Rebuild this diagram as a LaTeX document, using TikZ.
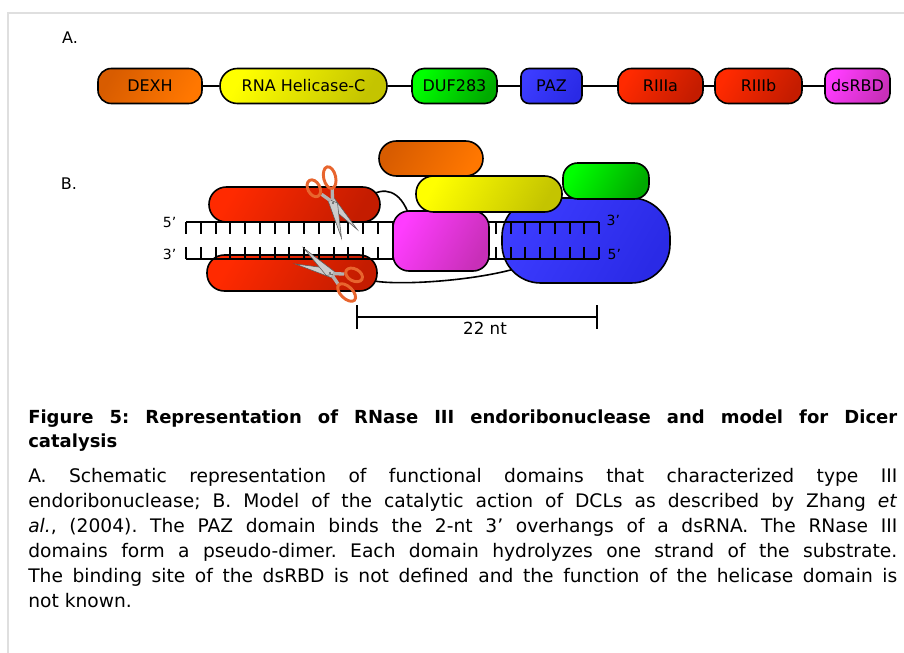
\documentclass[tikz,border=0pt]{standalone}
\usepackage{fontspec}
\setmainfont{DejaVu Sans}
\usepackage{tikz}
\usetikzlibrary{positioning, arrows.meta, shapes.geometric}
\usepackage{xcolor}

\definecolor{dexhA}{HTML}{D85C00}
\definecolor{dexhB}{HTML}{FF7700}
\definecolor{helA}{HTML}{FFFF00}
\definecolor{helB}{HTML}{C4C400}
\definecolor{dufA}{HTML}{00FF00}
\definecolor{dufB}{HTML}{00AA00}
\definecolor{pazA}{HTML}{3C3CFF}
\definecolor{pazB}{HTML}{2A2AE6}
\definecolor{rnaseA}{HTML}{FF2A00}
\definecolor{rnaseB}{HTML}{C41C00}
\definecolor{dsrbdA}{HTML}{FF3CFF}
\definecolor{dsrbdB}{HTML}{C82FB8}
\definecolor{handle}{HTML}{E8652E}

\tikzset{
    dombox/.style={draw, line width=1.2pt, inner sep=0pt, minimum height=26.25pt,
        rounded corners=10pt, font=\fontsize{12}{14}\selectfont},
    blob/.style={draw, line width=1.2pt, inner sep=0pt},
    dexhfill/.style={left color=dexhA, right color=dexhB, shading angle=60},
    helfill/.style={left color=helA, right color=helB, shading angle=60},
    duffill/.style={left color=dufA, right color=dufB, shading angle=60},
    pazfill/.style={left color=pazA, right color=pazB, shading angle=60},
    rnasefill/.style={left color=rnaseA, right color=rnaseB, shading angle=60},
    dsrbdfill/.style={left color=dsrbdA, right color=dsrbdB, shading angle=60},
    linker/.style={line width=1.2pt},
    rung/.style={line width=1.5pt},
    scissors/.pic={
        \draw[gray!70!black, fill=gray!40, line width=0.4pt] (-6,-3) -- (35,-9) -- (2,4) -- cycle;
        \draw[gray!70!black, fill=gray!40, line width=0.4pt] (-6,3) -- (35,9) -- (2,-4) -- cycle;
        \draw[gray!60, line width=2.5pt] (-3,-1) -- (-13,-6) (-3,1) -- (-13,6);
        \draw[handle, line width=2.2pt, rotate around={-15:(-24,-9)}] (-24,-9) ellipse (11 and 6);
        \draw[handle, line width=2.2pt] (-22,10) ellipse (9 and 6);
        \fill[gray!80!black] (0,0) circle (1.2);
    }
}

\begin{document}
\begin{tikzpicture}[x=0.75pt, y=-0.75pt, font=\fontsize{12}{14}\selectfont]
    \useasboundingbox (0,0) rectangle (904,653);
    \draw[gray!25, line width=1.5pt] (8,653) -- (8,13) -- (904,13);

    \node (labA) at (70,38) {A.};
    \node (labB) at (69,184) {B.};

    % A: domain organisation
    \node[dombox, dexhfill, minimum width=78pt, rounded corners=10pt] (dexh) at (150,86) {DEXH};
    \node[dombox, helfill, minimum width=125.25pt, rounded corners=13pt] (helic) at (303.5,86) {RNA Helicase-C};
    \node[dombox, duffill, minimum width=63.75pt, rounded corners=9pt] (duf) at (454.5,86) {DUF283};
    \node[dombox, pazfill, minimum width=45.75pt, rounded corners=6pt] (paz) at (551.5,86) {PAZ};
    \node[dombox, rnasefill, minimum width=63.75pt] (riiia) at (660.5,86) {RIIIa};
    \node[dombox, rnasefill, minimum width=65.25pt] (riiib) at (758.5,86) {RIIIb};
    \node[dombox, dsrbdfill, minimum width=48.75pt, rounded corners=7.5pt] (dsrbd) at (857.5,86) {dsRBD};
    \foreach \a/\b in {dexh/helic, helic/duf, duf/paz, paz/riiia, riiia/riiib, riiib/dsrbd}
        \draw[linker] (\a.east) -- (\b.west);

    % B: Dicer on the dsRNA
    \coordinate (redtopE) at (368,197);
    \coordinate (redbotE) at (370,280);
    \coordinate (magNW) at (409,215);
    \coordinate (bluein) at (518,268);
    \draw[linker] (redtopE) .. controls (384,186) and (400,190) .. (magNW);
    \draw[linker] (redbotE) .. controls (390,286) and (470,282) .. (bluein);

    \node[blob, rnasefill, minimum width=128.25pt, minimum height=26.25pt, rounded corners=13pt] (redtop) at (294.5,204.5) {};
    \node[blob, rnasefill, minimum width=127.5pt, minimum height=27pt, rounded corners=13pt] (redbot) at (292,273) {};
    \node[blob, pazfill, minimum width=126pt, minimum height=63.75pt, rounded corners=29pt] (paz2) at (586,240.5) {};

    % double strand
    \draw[rung] (186,222) -- (599,222);
    \draw[rung] (186,259) -- (599,259);
    \foreach \i in {0,...,28} {
        \draw[rung] ({186+14.75*\i},222) -- ++(0,12);
        \draw[rung] ({186+14.75*\i},259) -- ++(0,-12);
    }

    \node[blob, dsrbdfill, minimum width=72pt, minimum height=45pt, rounded corners=12pt] (dsrbd2) at (441,241) {};
    \node[blob, helfill, minimum width=109.5pt, minimum height=27pt, rounded corners=13pt] (helic2) at (489,194) {};
    \node[blob, dexhfill, minimum width=78pt, minimum height=26.25pt, rounded corners=13pt] (dexh2) at (431,158.5) {};
    \node[blob, duffill, minimum width=64.5pt, minimum height=27pt, rounded corners=11pt] (duf2) at (606,181) {};

    \pic[rotate=-62] at (333,203) {scissors};
    \pic[rotate=151] at (330,273) {scissors};

    \node[font=\fontsize{10.5}{12}\selectfont, anchor=east] (end5l) at (181,222) {5'};
    \node[font=\fontsize{10.5}{12}\selectfont, anchor=east] (end3l) at (181,254) {3'};
    \node[font=\fontsize{10.5}{12}\selectfont, anchor=west] (end3r) at (602,220) {3'};
    \node[font=\fontsize{10.5}{12}\selectfont, anchor=west] (end5r) at (603,254) {5'};

    % 22 nt ruler
    \coordinate (rulL) at (356,317);
    \coordinate (rulR) at (598,317);
    \draw[line width=1.2pt, {Bar[width=18pt]}-{Bar[width=18pt]}] (rulL) -- (rulR);
    \node[font=\fontsize{12.5}{14}\selectfont] (nt) at (485,328) {22 nt};

    % legend
    \node[anchor=north west, inner sep=0pt, text width=651.75pt, align=justify,
        font=\bfseries\fontsize{13.5}{18}\selectfont] (title) at (28,410)
        {\frenchspacing\tolerance=10000 Figure 5: Representation of RNase III endoribonuclease and model for Dicer\linebreak catalysis};
    \node[anchor=north west, inner sep=0pt, text width=651.75pt, align=justify,
        font=\fontsize{14}{18.75}\selectfont] (legend) at (28,468)
        {\frenchspacing\tolerance=10000 \hbadness=10000 A. Schematic representation of functional domains that characterized type III\linebreak
        endoribonuclease; B. Model of the catalytic action of DCLs as described by Zhang \textit{et}\linebreak
        \textit{al.}, (2004). The PAZ domain binds the 2-nt 3' overhangs of a dsRNA. The RNase III\linebreak
        domains form a pseudo-dimer. Each domain hydrolyzes one strand of the substrate.\linebreak
        The binding site of the dsRBD is not defined and the function of the helicase domain is\linebreak
        not known.};
\end{tikzpicture}
\end{document}
